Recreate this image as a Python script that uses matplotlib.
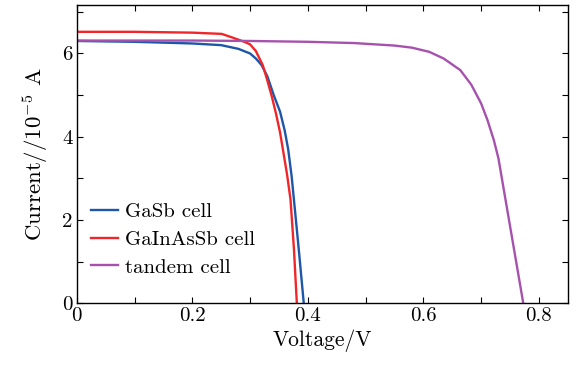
import matplotlib
matplotlib.use("Agg")
import matplotlib.pyplot as plt
from matplotlib.ticker import MultipleLocator

plt.rcParams['font.family'] = 'serif'
plt.rcParams['font.serif'] = ['cmr10', 'DejaVu Serif']
plt.rcParams['mathtext.fontset'] = 'cm'
plt.rcParams['axes.unicode_minus'] = False
plt.rcParams['axes.formatter.use_mathtext'] = True

# GaSb cell
v_gasb = [0, 0.1, 0.2, 0.25, 0.28, 0.30, 0.31, 0.32, 0.33, 0.341, 0.352, 0.360, 0.366, 0.372, 0.378, 0.385, 0.393]
i_gasb = [6.30, 6.28, 6.24, 6.20, 6.11, 6.0, 5.88, 5.72, 5.45, 5.0, 4.6, 4.15, 3.7, 3.05, 2.2, 1.2, 0]

# GaInAsSb cell
v_gia = [0, 0.1, 0.2, 0.251, 0.27, 0.29, 0.30, 0.31, 0.322, 0.33, 0.338, 0.345, 0.352, 0.358, 0.364, 0.370, 0.376, 0.381]
i_gia = [6.52, 6.52, 6.50, 6.47, 6.38, 6.28, 6.22, 6.06, 5.72, 5.35, 4.95, 4.55, 4.1, 3.6, 3.1, 2.5, 1.3, 0]

# tandem cell
v_tan = [0, 0.2, 0.3, 0.4, 0.48, 0.55, 0.58, 0.61, 0.635, 0.664, 0.683, 0.70, 0.711, 0.722, 0.73, 0.773]
i_tan = [6.31, 6.31, 6.30, 6.28, 6.25, 6.19, 6.14, 6.04, 5.88, 5.6, 5.25, 4.8, 4.4, 3.92, 3.48, 0]

fig = plt.figure(figsize=(5.77, 3.65), dpi=100)
ax = fig.add_axes([0.133, 0.169, 0.851, 0.818])

ax.plot(v_gasb, i_gasb, color='#1f56a8', lw=1.7, label='GaSb cell')
ax.plot(v_gia, i_gia, color='#f0262a', lw=1.7, label='GaInAsSb cell')
ax.plot(v_tan, i_tan, color='#a652ad', lw=1.7, label='tandem cell')

ax.set_xlim(0, 0.85)
ax.set_ylim(0, 7.17)
ax.xaxis.set_minor_locator(MultipleLocator(0.1))
ax.yaxis.set_minor_locator(MultipleLocator(1))
ax.set_xticks([0, 0.2, 0.4, 0.6, 0.8])
ax.set_xticklabels(['0', '0.2', '0.4', '0.6', '0.8'])
ax.set_yticks([0, 2, 4, 6])
ax.set_yticklabels(['0', '2', '4', '6'])
ax.tick_params(which='both', direction='in', top=True, right=True, length=4, width=0.8,
               labelsize=15, pad=3)
for s in ax.spines.values():
    s.set_linewidth(1.0)

ax.set_xlabel('Voltage/V', fontsize=15.5, labelpad=3)
ax.set_ylabel(r'Current$/$/10$^{-5}$ A', fontsize=16.5, labelpad=9)

ax.legend(loc='lower left', frameon=False, fontsize=15, handlelength=1.3,
          handletextpad=0.3, labelspacing=0.45, borderaxespad=0.3,
          bbox_to_anchor=(0.0, 0.04))

fig.savefig('out.png', dpi=100)
